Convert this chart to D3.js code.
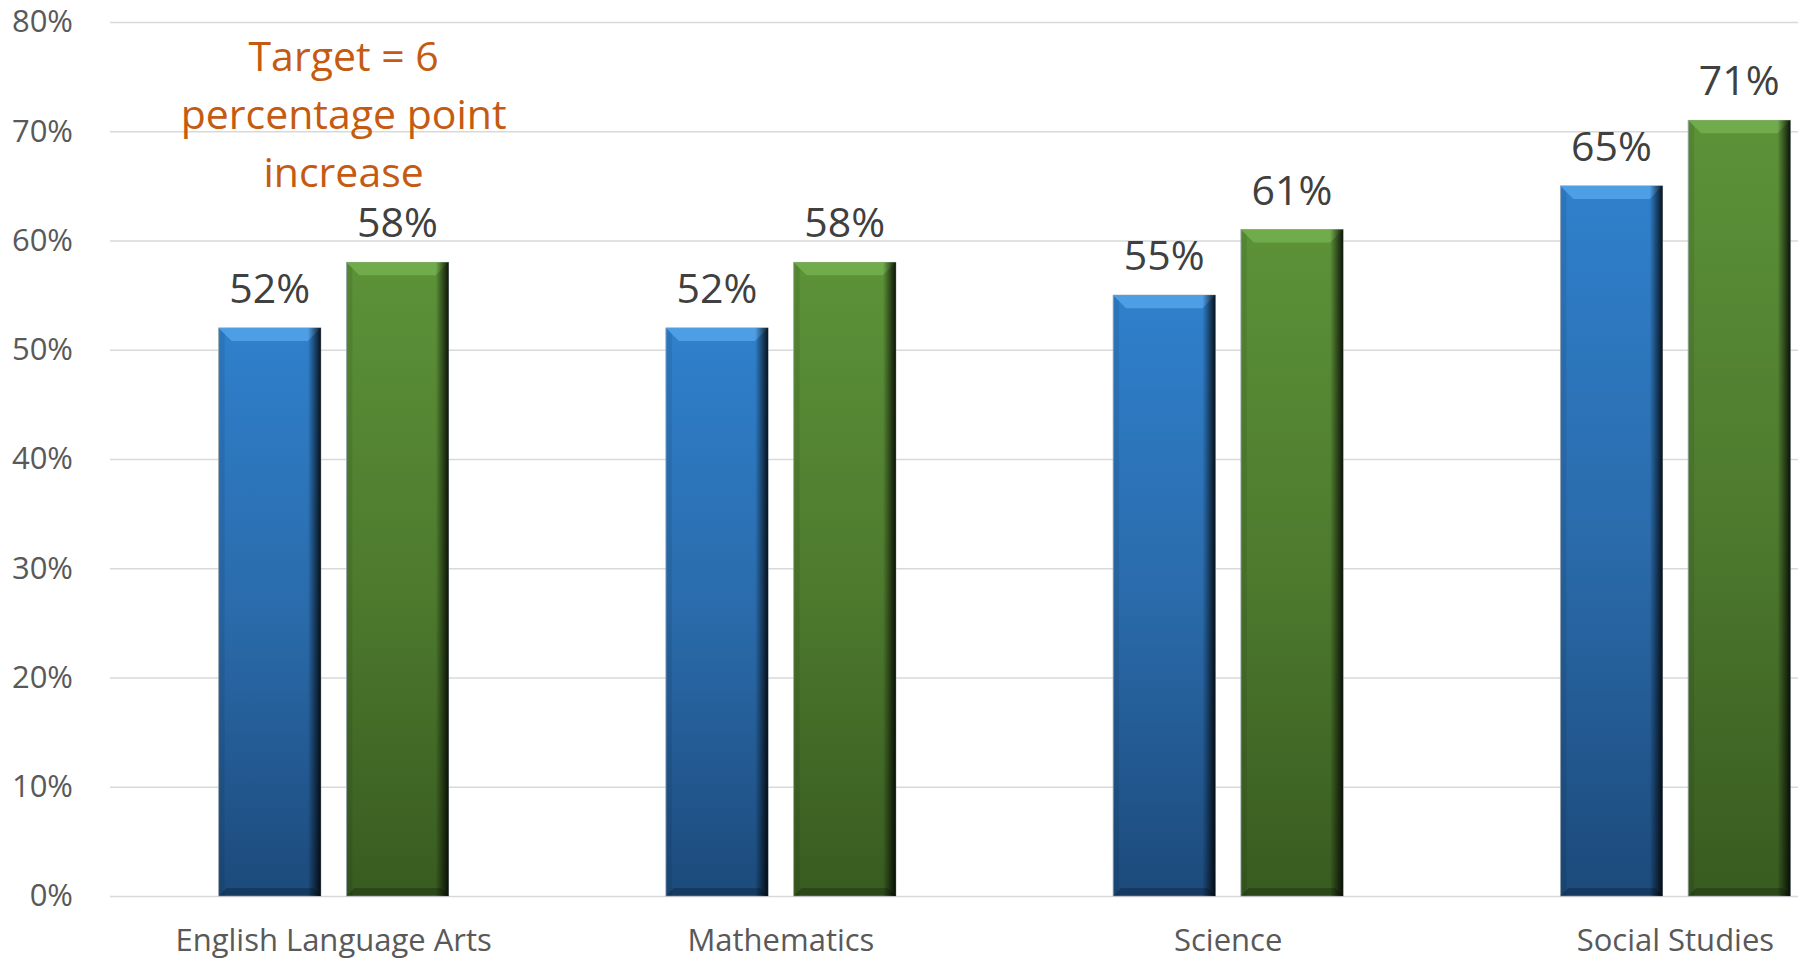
<!DOCTYPE html>
<html>
<head>
<meta charset="utf-8">
<script src="https://cdn.jsdelivr.net/npm/d3@7"></script>
<style>
  body { margin: 0; background: #fff; }
  #my_dataviz { width: 1798px; height: 962px; overflow: hidden; }
  text { font-family: "Open Sans", "Noto Sans", sans-serif; }
</style>
</head>
<body>
<div id="my_dataviz"></div>
<script>
'use strict';

// categories and series
const subjects = ["English Language Arts", "Mathematics", "Science", "Social Studies"];
const seriesNames = ["baseline", "target"];
const baselineValues = [0.52, 0.52, 0.55, 0.65];
const targetValues = [0.58, 0.58, 0.61, 0.71];
const yTicks = [0, 0.1, 0.2, 0.3, 0.4, 0.5, 0.6, 0.7, 0.8];
const noteLines = ["Target = 6", "percentage point", "increase"];

const seriesColors = {
  baseline: { top: "#2f80cc", mid: "#2a6bab", bottom: "#1c4a7b", bevel: "#4fa0e6" },
  target:   { top: "#5c9238", mid: "#4e7b2e", bottom: "#385b20", bevel: "#72ad4c" }
};

const width = 1798, height = 962;

let svg = d3.select("#my_dataviz")
  .append("svg")
    .attr("width", width)
    .attr("height", height);

// scales
let y = d3.scaleLinear()
  .domain([0, 0.8])
  .range([896, 22]);

let x0 = d3.scaleBand()
  .domain(subjects)
  .range([110, 1899])
  .paddingInner(0)
  .paddingOuter(0);

let groupWidth = 230;
let x1 = d3.scaleBand()
  .domain(seriesNames)
  .range([0, groupWidth])
  .paddingInner(0.2)
  .paddingOuter(0);

// gradients
let defs = svg.append("defs");
seriesNames.forEach(function(s) {
  let c = seriesColors[s];
  let g = defs.append("linearGradient")
    .attr("id", "grad-" + s)
    .attr("x1", 0).attr("y1", 0).attr("x2", 0).attr("y2", 1);
  g.append("stop").attr("offset", "0%").attr("stop-color", c.top);
  g.append("stop").attr("offset", "50%").attr("stop-color", c.mid);
  g.append("stop").attr("offset", "100%").attr("stop-color", c.bottom);
});
let edge = defs.append("linearGradient")
  .attr("id", "edge-dark")
  .attr("x1", 0).attr("y1", 0).attr("x2", 1).attr("y2", 0);
edge.append("stop").attr("offset", "0%").attr("stop-color", "#000").attr("stop-opacity", 0);
edge.append("stop").attr("offset", "100%").attr("stop-color", "#000").attr("stop-opacity", 0.85);

// grid + y axis
let yAxis = svg.append("g")
  .attr("class", "y-axis")
  .attr("transform", "translate(110,0)")
  .call(d3.axisLeft(y)
    .tickValues(yTicks)
    .tickFormat(d3.format(".0%"))
    .tickSize(-(1899 - 110))
    .tickPadding(37));
yAxis.select(".domain").remove();
yAxis.selectAll(".tick line")
  .attr("stroke", "#d9d9d9")
  .attr("stroke-width", 1.4);
yAxis.selectAll(".tick text")
  .attr("fill", "#595959")
  .style("font-size", "31px");

// x labels
let xAxis = svg.append("g")
  .attr("class", "x-axis")
  .attr("transform", "translate(0,896)")
  .call(d3.axisBottom(x0).tickSize(0).tickPadding(0));
xAxis.select(".domain").remove();
xAxis.selectAll(".tick text")
  .attr("fill", "#595959")
  .attr("dy", 0)
  .attr("y", 55)
  .style("font-size", "31px");

// flatten to rows
let rows = [];
subjects.forEach(function(subj, i) {
  rows.push({ subject: subj, series: "baseline", value: baselineValues[i] });
  rows.push({ subject: subj, series: "target", value: targetValues[i] });
});

function barX(d) {
  return x0(d.subject) + (x0.bandwidth() - groupWidth) / 2 + x1(d.series);
}

let bw = x1.bandwidth();
let bev = 13;

let bars = svg.selectAll(".bar")
  .data(rows)
  .enter()
  .append("g")
  .attr("class", "bar");

// main body
bars.append("rect")
  .attr("x", barX)
  .attr("y", function(d) { return y(d.value); })
  .attr("width", bw)
  .attr("height", function(d) { return y(0) - y(d.value); })
  .style("fill", function(d) { return "url(#grad-" + d.series + ")"; })
  .style("stroke", "#9aa4ae")
  .style("stroke-width", 0.8);

// left highlight
bars.append("rect")
  .attr("x", function(d) { return barX(d) + 1; })
  .attr("y", function(d) { return y(d.value); })
  .attr("width", 5)
  .attr("height", function(d) { return y(0) - y(d.value); })
  .style("fill", "#000")
  .style("opacity", 0.08);

// top bevel
bars.append("polygon")
  .attr("points", function(d) {
    let x = barX(d), t = y(d.value);
    return [[x, t], [x + bw, t], [x + bw - bev, t + bev], [x + bev, t + bev]].join(" ");
  })
  .style("fill", function(d) { return seriesColors[d.series].bevel; })
  .style("opacity", 0.95);

// bottom bevel
bars.append("polygon")
  .attr("points", function(d) {
    let x = barX(d), b = y(0);
    return [[x, b], [x + bw, b], [x + bw - 8, b - 8], [x + 8, b - 8]].join(" ");
  })
  .style("fill", "#000")
  .style("opacity", 0.22);

// dark right edge
bars.append("rect")
  .attr("x", function(d) { return barX(d) + bw - 13; })
  .attr("y", function(d) { return y(d.value); })
  .attr("width", 13)
  .attr("height", function(d) { return y(0) - y(d.value); })
  .style("fill", "url(#edge-dark)");

// value labels
svg.selectAll(".value-label")
  .data(rows)
  .enter()
  .append("text")
  .attr("class", "value-label")
  .attr("x", function(d) { return barX(d) + bw / 2; })
  .attr("y", function(d) { return y(d.value) - 25; })
  .attr("text-anchor", "middle")
  .attr("fill", "#404040")
  .style("font-size", "41px")
  .text(function(d) { return d3.format(".0%")(d.value); });

// target note
let noteX = x0(subjects[0]) + x0.bandwidth() / 2 + 10;
svg.append("text")
  .attr("class", "note")
  .attr("text-anchor", "middle")
  .attr("fill", "#c55a11")
  .style("font-size", "41px")
  .selectAll("tspan")
  .data(noteLines)
  .enter()
  .append("tspan")
  .attr("x", noteX)
  .attr("y", function(d, i) { return y(0.8) + 49 + i * 58; })
  .text(function(d) { return d; });
</script>
</body>
</html>
